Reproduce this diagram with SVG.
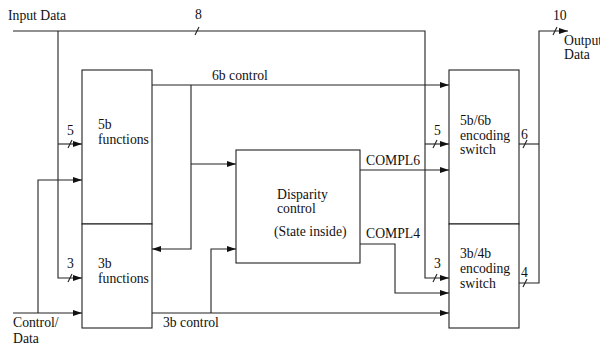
<svg xmlns="http://www.w3.org/2000/svg" width="600" height="347" viewBox="0 0 600 347" font-family="'Liberation Serif', 'Times New Roman', 'DejaVu Serif', serif">
<style>
.box{fill:#fff;stroke:#222;stroke-width:1.1}
.ln{fill:none;stroke:#222;stroke-width:1.1}
.t{font-family:'Liberation Serif','Times New Roman','DejaVu Serif',serif;font-size:13.7px;fill:#111}
</style>
<defs>
<marker id="ah" markerUnits="userSpaceOnUse" markerWidth="10" markerHeight="8" refX="9" refY="3.5" orient="auto">
<path d="M0,0.5 L9,3.5 L0,6.5 z" fill="#111"/>
</marker>
</defs>
<rect width="600" height="347" fill="#fff"/>
<g id="connectors">
<path class="ln" d="M13,31 H425 V278 H449" marker-end="url(#ah)"/>
<path class="ln" d="M425,144 H449" marker-end="url(#ah)"/>
<path class="ln" d="M58,31 V278 H82" marker-end="url(#ah)"/>
<path class="ln" d="M58,144 H82" marker-end="url(#ah)"/>
<path class="ln" d="M13,313 H82" marker-end="url(#ah)"/>
<path class="ln" d="M38,313 V180 H82" marker-end="url(#ah)"/>
<path class="ln" d="M152,85 H449" marker-end="url(#ah)"/>
<path class="ln" d="M191,85 V249 H152" marker-end="url(#ah)"/>
<path class="ln" d="M191,164 H236" marker-end="url(#ah)"/>
<path class="ln" d="M360,170 H449" marker-end="url(#ah)"/>
<path class="ln" d="M360,244 H395 V293 H449" marker-end="url(#ah)"/>
<path class="ln" d="M152,313 H449" marker-end="url(#ah)"/>
<path class="ln" d="M211,313 V249 H236" marker-end="url(#ah)"/>
<path class="ln" d="M519,144 H539"/>
<path class="ln" d="M519,283 H539 V31 H568" marker-end="url(#ah)"/>
<path class="ln" d="M195,35 L199,27"/>
<path class="ln" d="M68,148 L72,140"/>
<path class="ln" d="M68,282 L72,274"/>
<path class="ln" d="M433,148 L437,140"/>
<path class="ln" d="M433,282 L437,274"/>
<path class="ln" d="M523,148 L527,140"/>
<path class="ln" d="M523,287 L527,279"/>
<path class="ln" d="M553,35 L557,27"/>
<text class="t" x="195" y="19">8</text>
<text class="t" x="67" y="135">5</text>
<text class="t" x="67" y="268">3</text>
<text class="t" x="434" y="135">5</text>
<text class="t" x="434" y="268">3</text>
<text class="t" x="521" y="139">6</text>
<text class="t" x="521" y="277">4</text>
<text class="t" x="553" y="20">10</text>
<text class="t" x="212" y="80">6b control</text>
<text class="t" x="366" y="165">COMPL6</text>
<text class="t" x="366" y="238">COMPL4</text>
<text class="t" x="163" y="327">3b control</text>
</g>
<g id="input-label"><text class="t" x="8" y="20">Input Data</text></g>
<g id="control-label"><text class="t" x="13" y="327">Control/</text><text class="t" x="13" y="343">Data</text></g>
<g id="output-label"><text class="t" x="564" y="45">Output</text><text class="t" x="564" y="59">Data</text></g>
<g id="f5b"><rect class="box" x="82" y="70" width="70" height="154"/><text class="t" x="98" y="129">5b</text><text class="t" x="98" y="144">functions</text></g>
<g id="f3b"><rect class="box" x="82" y="224" width="70" height="104"/><text class="t" x="98" y="268">3b</text><text class="t" x="98" y="283">functions</text></g>
<g id="disparity"><rect class="box" x="236" y="150" width="124" height="113"/><text class="t" x="277" y="199">Disparity</text><text class="t" x="277" y="213">control</text><text class="t" x="274" y="236">(State inside)</text></g>
<g id="sw56"><rect class="box" x="449" y="70" width="70" height="154"/><text class="t" x="460" y="125">5b/6b</text><text class="t" x="460" y="140">encoding</text><text class="t" x="460" y="154">switch</text></g>
<g id="sw34"><rect class="box" x="449" y="224" width="70" height="104"/><text class="t" x="460" y="258">3b/4b</text><text class="t" x="460" y="273">encoding</text><text class="t" x="460" y="288">switch</text></g>
</svg>
